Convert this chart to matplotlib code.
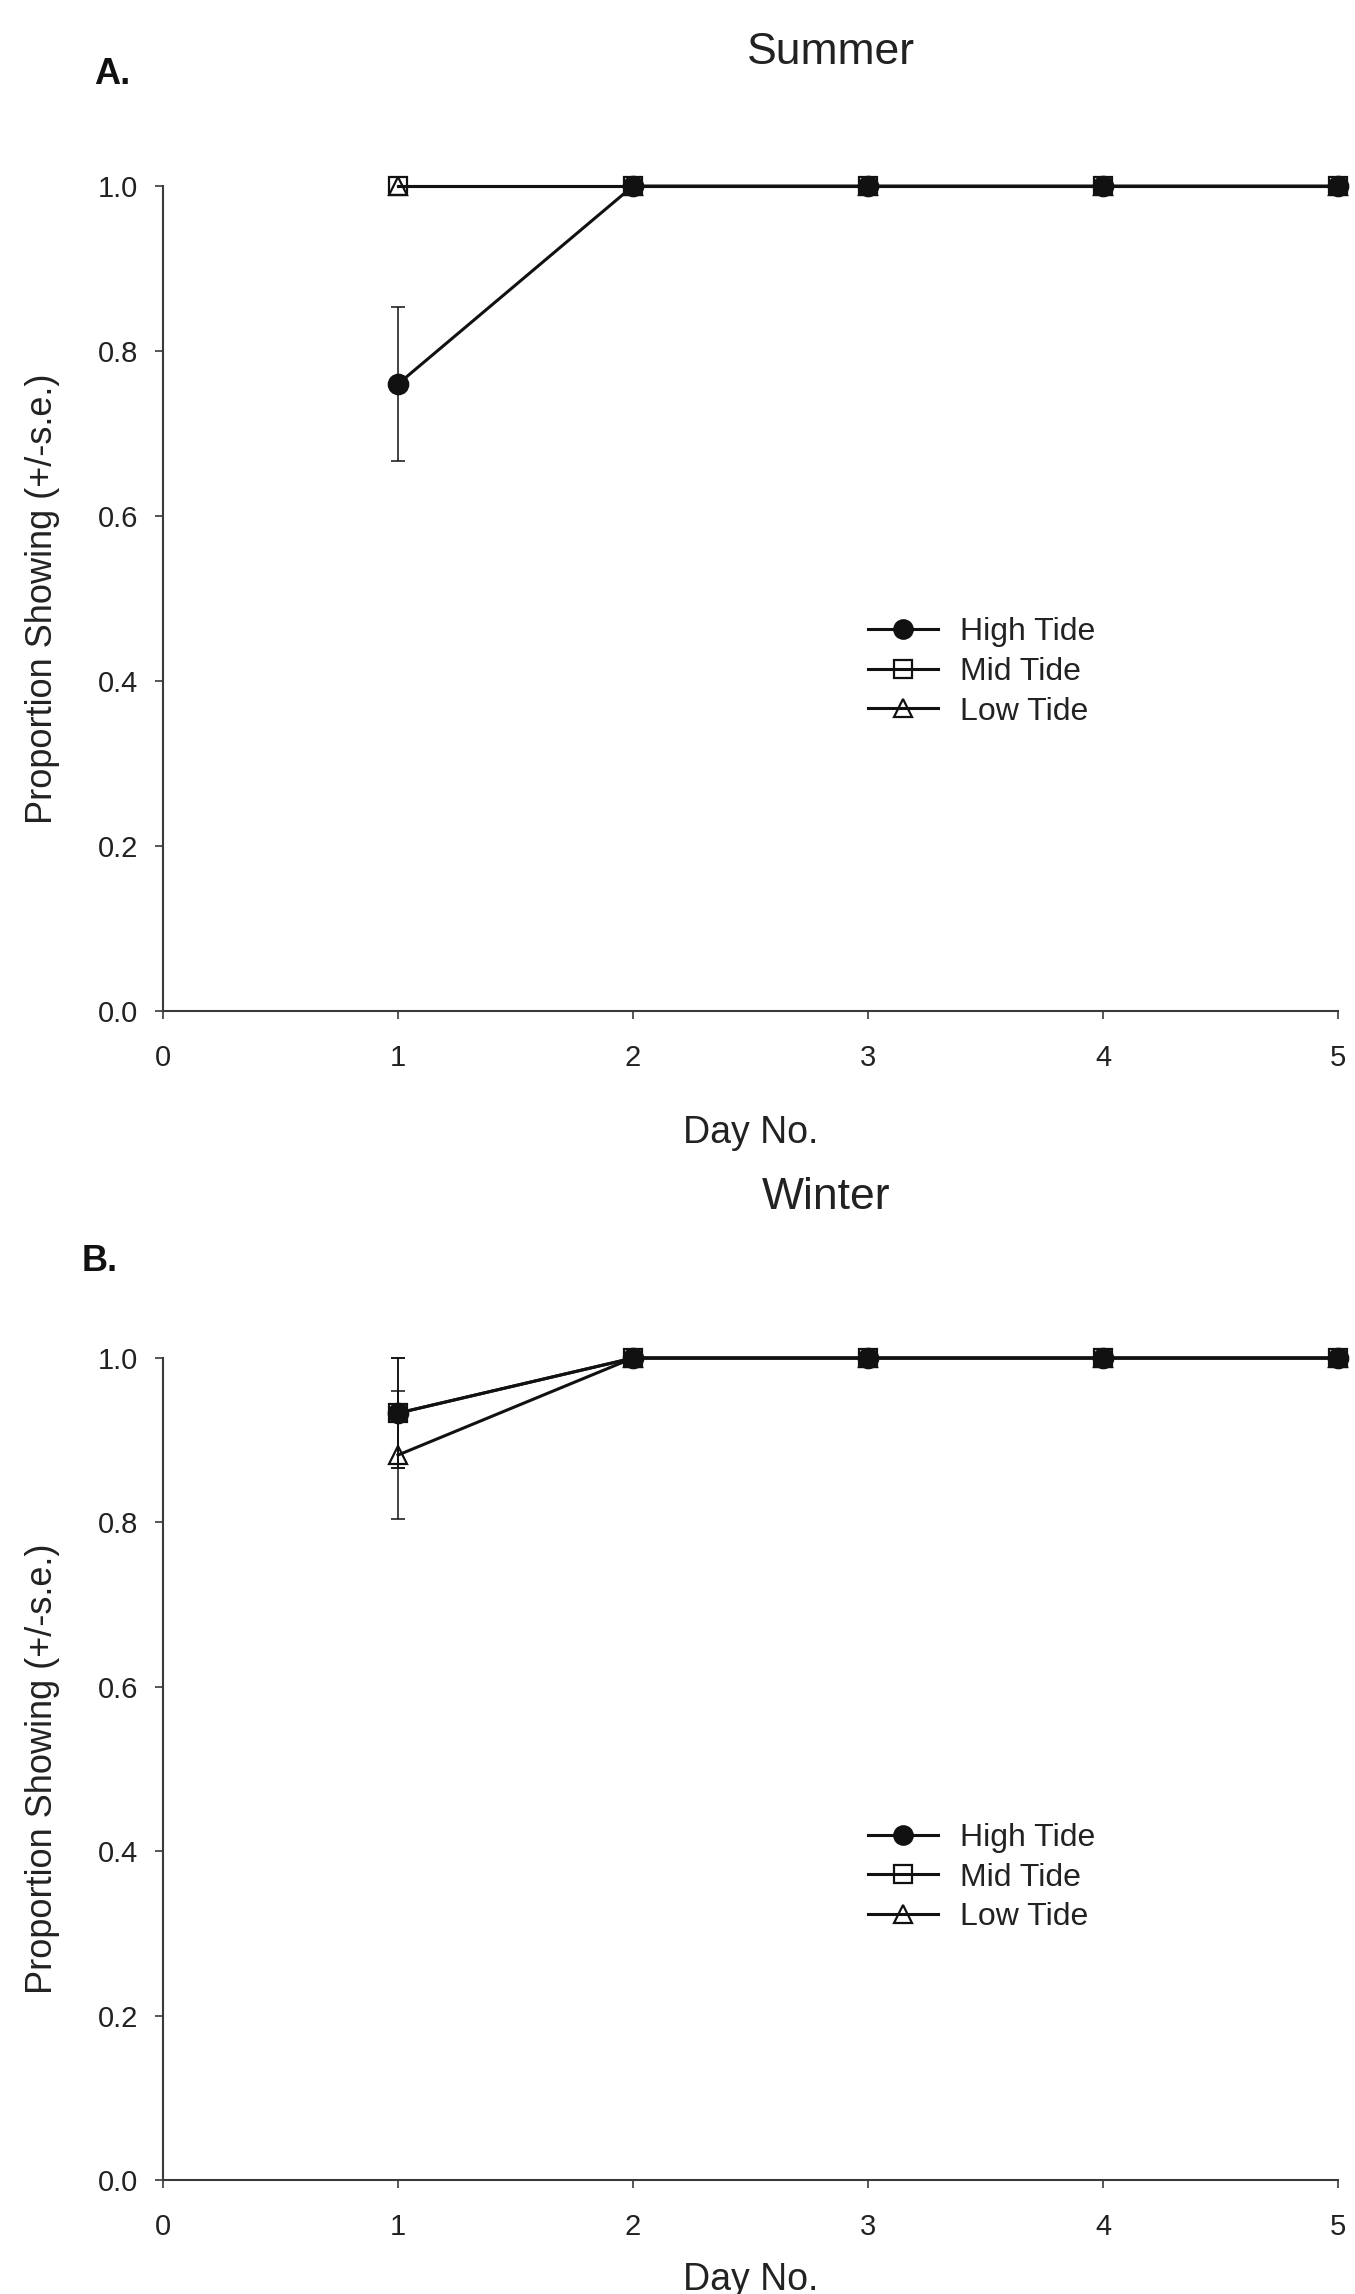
import matplotlib
matplotlib.use("Agg")
import matplotlib.pyplot as plt
import numpy as np

plt.rcParams['font.family'] = ['Liberation Sans', 'DejaVu Sans']

# ---------------- data ----------------
days = [1, 2, 3, 4, 5]
series_names = ["High Tide", "Mid Tide", "Low Tide"]

summer_high = [0.76, 1.0, 1.0, 1.0, 1.0]
summer_high_se = [0.093, 0.0, 0.0, 0.0, 0.0]
summer_mid = [1.0, 1.0, 1.0, 1.0, 1.0]
summer_mid_se = [0.0, 0.0, 0.0, 0.0, 0.0]
summer_low = [1.0, 1.0, 1.0, 1.0, 1.0]
summer_low_se = [0.0, 0.0, 0.0, 0.0, 0.0]

winter_high = [0.933, 1.0, 1.0, 1.0, 1.0]
winter_high_se = [0.067, 0.0, 0.0, 0.0, 0.0]
winter_mid = [0.933, 1.0, 1.0, 1.0, 1.0]
winter_mid_se = [0.067, 0.0, 0.0, 0.0, 0.0]
winter_low = [0.882, 1.0, 1.0, 1.0, 1.0]
winter_low_se = [0.078, 0.0, 0.0, 0.0, 0.0]

x_ticks = [0, 1, 2, 3, 4, 5]
y_ticks = [0.0, 0.2, 0.4, 0.6, 0.8, 1.0]
y_tick_labels = ["0.0", "0.2", "0.4", "0.6", "0.8", "1.0"]

# ---------------- styling ----------------
LINE_C = '#111111'
AX_C = '#3a3a3a'
styles = {
    "High Tide": dict(marker='o', mfc=LINE_C, mec=LINE_C, ms=14, z=5),
    "Mid Tide": dict(marker='s', mfc='none', mec=LINE_C, ms=13, z=4),
    "Low Tide": dict(marker='^', mfc='none', mec=LINE_C, ms=13, z=3),
}

fig = plt.figure(figsize=(13.55, 22.94), dpi=100)
ax1 = fig.add_axes([0.1203, 0.5593, 0.8672, 0.3596])
ax2 = fig.add_axes([0.1203, 0.0497, 0.8672, 0.3583])


def draw_panel(ax, data, legend_y, xlabel_y):
    # draw in order Low, Mid, High so High is on top
    for name in ["Low Tide", "Mid Tide", "High Tide"]:
        vals, se = data[name]
        st = styles[name]
        se_arr = np.array(se)
        mask = se_arr > 0
        if mask.any():
            ax.errorbar(np.array(days)[mask], np.array(vals)[mask],
                        yerr=se_arr[mask], fmt='none', ecolor=LINE_C,
                        elinewidth=1.1, capsize=5, capthick=1.1,
                        zorder=st['z'] - 0.5, clip_on=False)
        ax.plot(days, vals, color=LINE_C, lw=2.2, marker=st['marker'],
                mfc=st['mfc'], mec=st['mec'], ms=st['ms'], mew=1.6,
                label=name, zorder=st['z'], clip_on=False)

    ax.set_xlim(0, 5)
    ax.set_ylim(0, 1.0)
    ax.set_xticks(x_ticks)
    ax.set_yticks(y_ticks)
    ax.set_yticklabels(y_tick_labels)
    for s in ['top', 'right']:
        ax.spines[s].set_visible(False)
    for s in ['left', 'bottom']:
        ax.spines[s].set_color(AX_C)
        ax.spines[s].set_linewidth(1.5)
    ax.tick_params(axis='both', direction='out', length=6, width=1.2,
                   color=AX_C, labelsize=21, labelcolor='#222222')
    ax.tick_params(axis='x', pad=18)
    ax.tick_params(axis='y', pad=12)

    ax.set_ylabel("Proportion Showing (+/-s.e.)", fontsize=26, color='#222222')
    ax.yaxis.set_label_coords(-0.088, 0.5)
    ax.set_xlabel("Day No.", fontsize=27, color='#222222')
    ax.xaxis.set_label_coords(0.5, xlabel_y)

    handles, labels = ax.get_legend_handles_labels()
    order = [labels.index(n) for n in series_names]
    leg = ax.legend([handles[i] for i in order], [labels[i] for i in order],
                    loc='center left', bbox_to_anchor=(0.6, legend_y),
                    frameon=False, fontsize=23, handlelength=2.2,
                    handletextpad=0.68, labelspacing=0.3,
                    borderpad=0, borderaxespad=0, markerscale=0.95)
    for t in leg.get_texts():
        t.set_color('#222222')


draw_panel(ax1, {"High Tide": (summer_high, summer_high_se),
                 "Mid Tide": (summer_mid, summer_mid_se),
                 "Low Tide": (summer_low, summer_low_se)},
           legend_y=0.411, xlabel_y=-0.126)
draw_panel(ax2, {"High Tide": (winter_high, winter_high_se),
                 "Mid Tide": (winter_mid, winter_mid_se),
                 "Low Tide": (winter_low, winter_low_se)},
           legend_y=0.368, xlabel_y=-0.0995)

fig.text(0.613, 0.977, "Summer", ha='center', va='center', fontsize=32, color='#222222')
fig.text(0.6096, 0.478, "Winter", ha='center', va='center', fontsize=32, color='#222222')
fig.text(0.0827, 0.9677, "A.", ha='center', va='center', fontsize=26,
         fontweight='bold', color='#111111')
fig.text(0.0734, 0.4499, "B.", ha='center', va='center', fontsize=26,
         fontweight='bold', color='#111111')

fig.savefig("out.png", dpi=100, facecolor='white')
